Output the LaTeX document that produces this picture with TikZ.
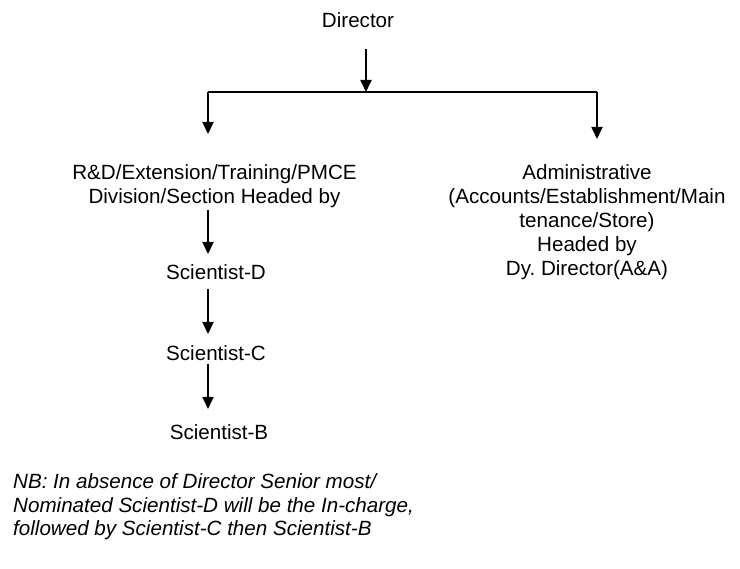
\documentclass[tikz,border=0pt]{standalone}
\usepackage{fontspec}
\setmainfont{Liberation Sans}
\usetikzlibrary{arrows.meta}
\begin{document}
\begin{tikzpicture}[x=1pt,y=-1pt,
  lbl/.style={font=\fontsize{20.6}{24}\selectfont, align=center, inner sep=0pt},
  note/.style={font=\fontsize{20.6}{23.5}\selectfont\itshape, align=left, inner sep=0pt, anchor=west},
  conn/.style={line width=1.8pt},
  arr/.style={conn, -{Triangle[width=11pt,length=12pt]}}]
\useasboundingbox (0,0) rectangle (740,569);
\node[lbl] (director) at (358,20) {Director};
\node[lbl] (rd) at (214.5,186) {R\&D/Extension/Training/PMCE\\Division/Section Headed by};
\node[lbl] (adm) at (587,222) {Administrative\\(Accounts/Establishment/Main\\tenance/Store)\\Headed by\\Dy.\ Director(A\&A)};
\node[lbl] (sd) at (216,272) {Scientist-D};
\node[lbl] (sc) at (216,353) {Scientist-C};
\node[lbl] (sb) at (219,432) {Scientist-B};
\node[note] (nb) at (13,507) {NB: In absence of Director Senior most/\\Nominated Scientist-D will be the In-charge,\\followed by Scientist-C then Scientist-B};
% junction coordinates
\coordinate (dtop) at (366,49);
\coordinate (junc) at (366,92);
\coordinate (lc) at (208,92);
\coordinate (rc) at (597,92);
\coordinate (rdtip) at (208,134);
\coordinate (admtip) at (597,139);
\coordinate (rdbot) at (208,210);
\coordinate (sdtip) at (208,254);
\coordinate (sdbot) at (208,289);
\coordinate (sctip) at (208,334);
\coordinate (scbot) at (208,364);
\coordinate (sbtip) at (208,409);
\draw[arr] (dtop) -- (junc);
\draw[conn] (lc) -- (rc);
\draw[arr] (lc) -- (rdtip);
\draw[arr] (rc) -- (admtip);
\draw[arr] (rdbot) -- (sdtip);
\draw[arr] (sdbot) -- (sctip);
\draw[arr] (scbot) -- (sbtip);
\end{tikzpicture}
\end{document}
